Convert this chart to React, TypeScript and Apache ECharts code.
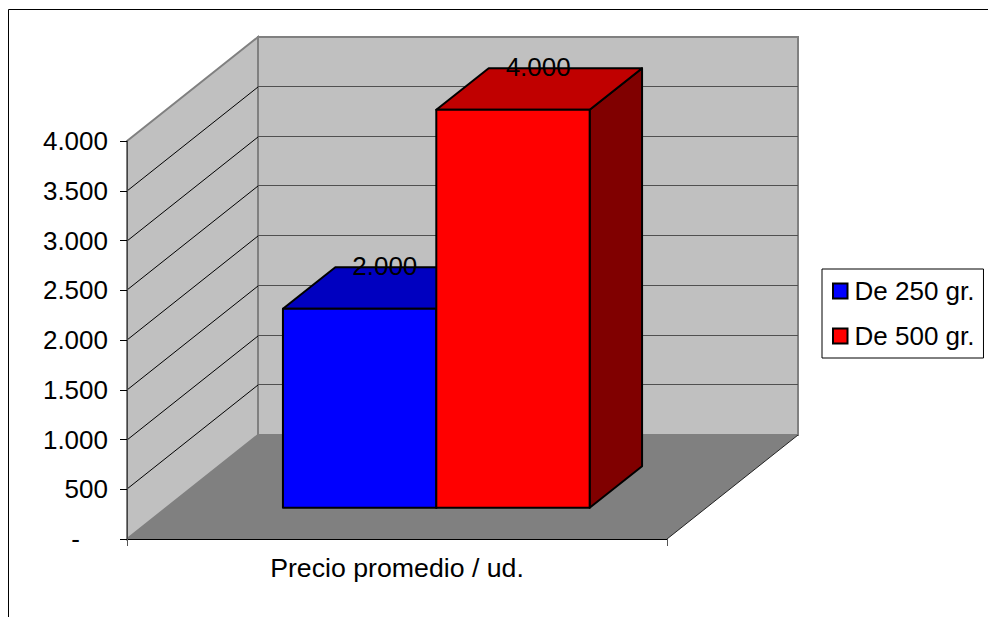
import React, { useEffect, useRef } from "react";
import * as echarts from "echarts";

const categories = ["Precio promedio / ud."];
const yTicks = [0, 500, 1000, 1500, 2000, 2500, 3000, 3500, 4000];
const seriesNames = ["De 250 gr.", "De 500 gr."];
const values250 = [2000];
const values500 = [4000];

const FONT = '"Liberation Sans", Arial, sans-serif';
const FS = 26;
const DX = 131;
const DY = -104;

const fmt = (v: number) => String(v).replace(/\B(?=(\d{3})+$)/g, ".");

function wallsItem(params: any, api: any) {
  const cs = params.coordSys;
  const x0 = cs.x, x1 = cs.x + cs.width;
  const y0 = api.coord([0, 0])[1];
  const yt = api.coord([0, yTicks[yTicks.length - 1]])[1];
  const wall = { fill: "#c0c0c0", stroke: "#808080", lineWidth: 2 };
  const children: any[] = [
    { type: "rect", shape: { x: x0 + DX, y: yt + DY, width: cs.width, height: y0 - yt }, style: wall },
    { type: "polygon", shape: { points: [[x0, yt], [x0 + DX, yt + DY], [x0 + DX, y0 + DY], [x0, y0]] }, style: wall },
    { type: "polygon", shape: { points: [[x0, y0], [x1, y0], [x1 + DX, y0 + DY], [x0 + DX, y0 + DY]] }, style: { fill: "#808080", stroke: "none" } },
    { type: "line", shape: { x1: x1, y1: y0, x2: x1 + DX, y2: y0 + DY }, style: { stroke: "#222", lineWidth: 1 } },
  ];
  yTicks.slice(1, -1).forEach((t) => {
    const y = Math.round(api.coord([0, t])[1]);
    children.push({ type: "line", shape: { x1: x0, y1: y, x2: x0 + DX, y2: y + DY }, style: { stroke: "#000", lineWidth: 1 } });
    children.push({ type: "line", shape: { x1: x0 + DX, y1: y + DY - 0.5, x2: x1 + DX, y2: y + DY - 0.5 }, style: { stroke: "#505050", lineWidth: 1.2 } });
  });
  return { type: "group", children };
}

function barRenderer(index: number, front: string, top: string, side: string) {
  return (params: any, api: any) => {
    const v = api.value(1);
    const band = api.size([1, 0])[0];
    const w = band * 0.284;
    const c = api.coord([api.value(0), 0]);
    const t = api.coord([api.value(0), v]);
    const ox = DX * 0.3, oy = DY * 0.3;
    const dx = DX * 0.4, dy = DY * 0.4;
    const l = c[0] - w + index * w + ox;
    const r = l + w;
    const b = c[1] + oy;
    const tp = t[1] + oy;
    const stroke = { stroke: "#000", lineWidth: 2, lineJoin: "round" };
    return {
      type: "group",
      children: [
        { type: "polygon", shape: { points: [[r, b], [r + dx, b + dy], [r + dx, tp + dy], [r, tp]] }, style: { fill: side, ...stroke } },
        { type: "polygon", shape: { points: [[l, tp], [l + dx, tp + dy], [r + dx, tp + dy], [r, tp]] }, style: { fill: top, ...stroke } },
        { type: "rect", shape: { x: l, y: tp, width: w, height: b - tp }, style: { fill: front, ...stroke } },
        { type: "text", style: { text: fmt(v), x: (l + r) / 2 + dx / 2 - 1, y: tp + dy - 1.5, align: "center", verticalAlign: "middle", font: `${FS}px ${FONT}`, fill: "#000" } },
      ],
    };
  };
}

export default function App() {
  const ref = useRef<HTMLDivElement>(null);
  useEffect(() => {
    const chart = echarts.init(ref.current!, undefined, { renderer: "svg" });
    chart.setOption({
      animation: false,
      backgroundColor: "#fff",
      textStyle: { fontFamily: FONT },
      grid: { left: 127, right: 321, top: 141, bottom: 78 },
      xAxis: {
        type: "category",
        data: categories,
        z: 5,
        axisLine: { lineStyle: { color: "#000", width: 1 } },
        axisTick: { show: true, length: 7, lineStyle: { color: "#555", width: 1 } },
        axisLabel: { fontSize: 26.7, color: "#000", fontFamily: FONT, margin: 15 },
      },
      yAxis: {
        type: "value",
        min: 0,
        max: 4000,
        interval: 500,
        z: 5,
        splitLine: { show: false },
        axisLine: { show: true, lineStyle: { color: "#444", width: 1 } },
        axisTick: { show: true, length: 7, lineStyle: { color: "#000", width: 1 } },
        axisLabel: {
          fontSize: FS,
          color: "#000",
          fontFamily: FONT,
          margin: 19,
          formatter: (v: number) => (v === 0 ? "{dash|-}" : fmt(v)),
          rich: { dash: { fontSize: FS, fontFamily: FONT, color: "#000", padding: [0, 28, 0, 0] } },
        },
      },
      legend: {
        left: 822,
        top: 269,
        orient: "vertical",
        data: seriesNames,
        backgroundColor: "#fff",
        borderColor: "#000",
        borderWidth: 1,
        borderRadius: 0,
        padding: [9, 9, 9, 10],
        itemWidth: 14.5,
        itemHeight: 15,
        itemGap: 19,
        icon: "rect",
        selectedMode: false,
        textStyle: { fontSize: FS, color: "#000", fontFamily: FONT, padding: [0, 0, 0, 2] },
      },
      graphic: [
        {
          type: "polyline",
          silent: true,
          shape: { points: [[8.5, 617], [8.5, 9.5], [988, 9.5]] },
          style: { stroke: "#000", lineWidth: 1, fill: "none" },
        },
      ],
      series: [
        {
          type: "custom",
          name: "walls",
          silent: true,
          z: 1,
          encode: { x: 0, y: 1 },
          data: [[0, 0]],
          renderItem: wallsItem,
        },
        {
          type: "custom",
          name: seriesNames[0],
          silent: true,
          z: 2,
          itemStyle: { color: "#0000ff", borderColor: "#000", borderWidth: 1.5 },
          encode: { x: 0, y: 1 },
          data: values250.map((v, i) => [i, v]),
          renderItem: barRenderer(0, "#0000ff", "#0000c0", "#000080"),
        },
        {
          type: "custom",
          name: seriesNames[1],
          silent: true,
          z: 3,
          itemStyle: { color: "#ff0000", borderColor: "#000", borderWidth: 1.5 },
          encode: { x: 0, y: 1 },
          data: values500.map((v, i) => [i, v]),
          renderItem: barRenderer(1, "#ff0000", "#c00000", "#800000"),
        },
      ],
    });
    return () => chart.dispose();
  }, []);
  return <div ref={ref} style={{ position: "fixed", left: 0, top: 0, width: 988, height: 617 }} />;
}
